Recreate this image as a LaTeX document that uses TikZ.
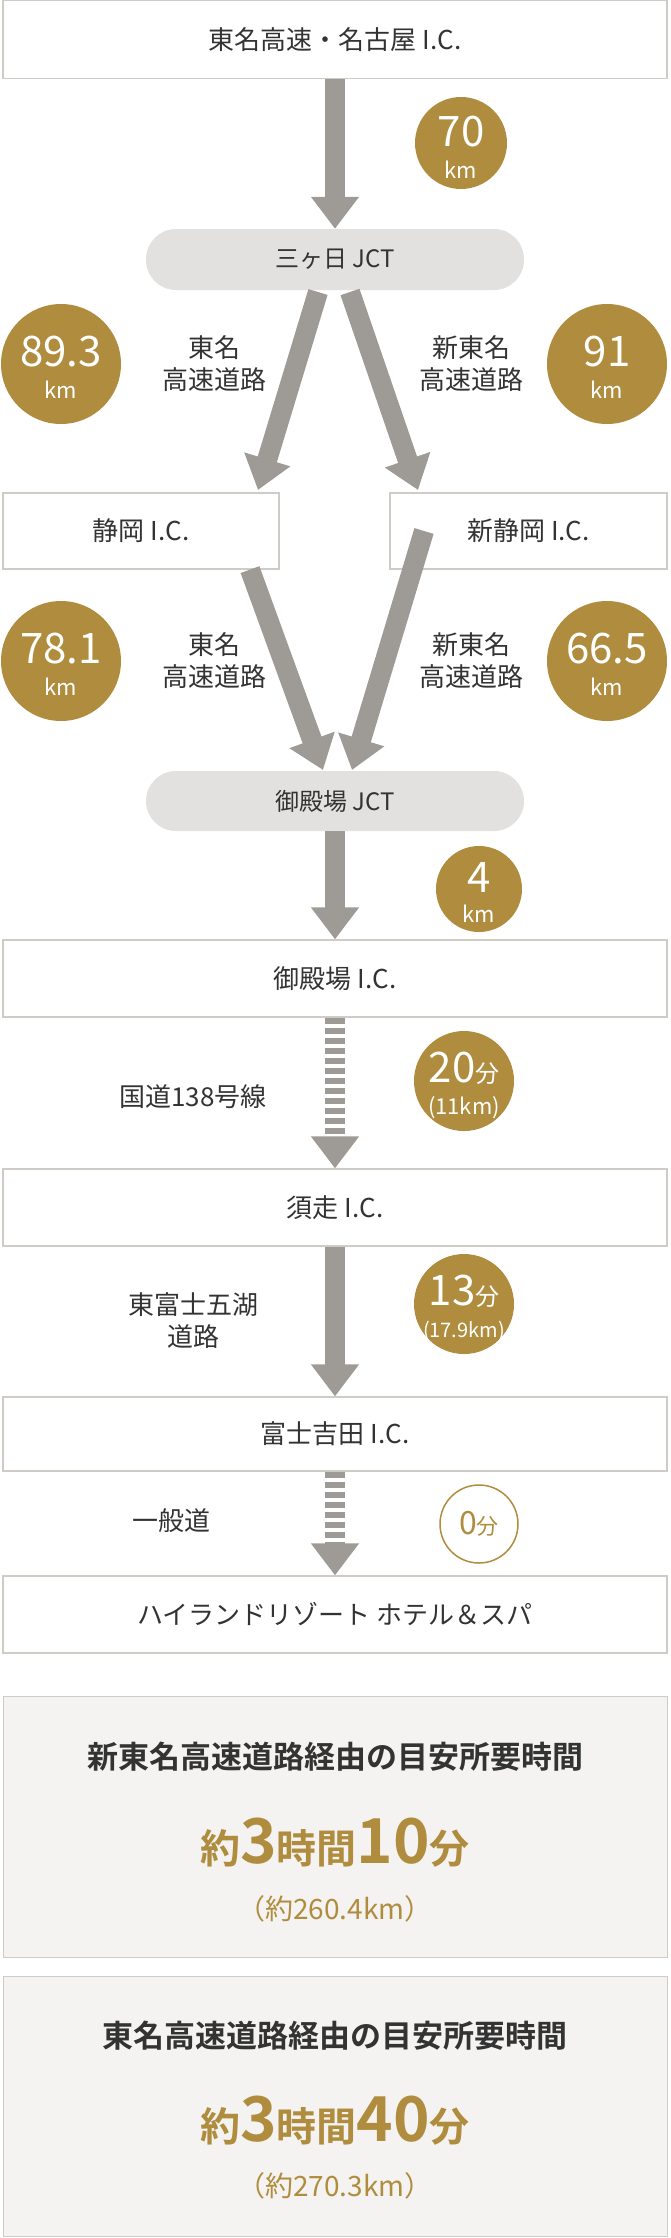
\documentclass[tikz,border=0pt]{standalone}
\usepackage{fontspec}
\setmainfont{Noto Sans CJK JP}[BoldFont={Noto Sans CJK JP Bold}]
\usetikzlibrary{arrows.meta}
\definecolor{gold}{HTML}{B08D3E}
\definecolor{arr}{HTML}{9E9A96}
\definecolor{pill}{HTML}{E3E1DF}
\definecolor{bord}{HTML}{CFCCC8}
\definecolor{sumbg}{HTML}{F4F3F1}
\definecolor{txt}{HTML}{333333}
\begin{document}
\begin{tikzpicture}[x=1pt,y=-1pt,
  box/.style={draw=bord,line width=1.2pt,fill=white,text=txt,font=\fontsize{26}{30}\selectfont},
  pillbox/.style={fill=pill,rounded corners=30pt,text=txt,font=\fontsize{24}{28}\selectfont},
  goldc/.style={circle,fill=gold,inner sep=0pt},
  big/.style={text=white,inner sep=0pt,font=\fontsize{42}{42}\selectfont},
  small/.style={text=white,inner sep=0pt,font=\fontsize{22}{22}\selectfont},
  road/.style={text=txt,align=center,font=\fontsize{26}{32}\selectfont},
  flow/.style={arr,line width=20pt,-{Triangle[width=46pt,length=32pt]}},
  dflow/.style={flow,dash pattern=on 6pt off 4pt}]
\useasboundingbox (0,0) rectangle (670,2238);
% boxes
\node[box,minimum width=664,minimum height=78] (top) at (335,39.5) {東名高速・名古屋 I.C.};
\node[pillbox,minimum width=378,minimum height=61] (j1) at (335,259.5) {三ヶ日 JCT};
\node[box,minimum width=276,minimum height=76] (shz) at (141,531) {静岡 I.C.};
\node[box,minimum width=277,minimum height=76] (nshz) at (528.5,531) {新静岡 I.C.};
\node[pillbox,minimum width=378,minimum height=60] (j2) at (335,801) {御殿場 JCT};
\node[box,minimum width=664,minimum height=77] (gic) at (335,978.5) {御殿場 I.C.};
\node[box,minimum width=664,minimum height=77] (sic) at (335,1207.5) {須走 I.C.};
\node[box,minimum width=664,minimum height=74] (fic) at (335,1434) {富士吉田 I.C.};
\node[box,minimum width=664,minimum height=77] (hot) at (335,1614.5) {ハイランドリゾート\ ホテル＆スパ};
% arrows
\draw[flow] (top.south) -- (j1.north);
\coordinate (a1) at (318,292); \coordinate (a2) at (258,490);
\coordinate (b1) at (350,292); \coordinate (b2) at (418,490);
\draw[flow] (a1) -- (a2);
\draw[flow] (b1) -- (b2);
\coordinate (c1) at (250,571); \coordinate (c2) at (323,770);
\coordinate (d1) at (424,531); \coordinate (d2) at (352,770);
\draw[flow] (shz.south -| c1) -- (c2);
\draw[flow] (d1) -- (d2);
\draw[flow] (j2.south) -- (gic.north);
\draw[dflow] (gic.south) -- (sic.north);
\draw[flow] (sic.south) -- (fic.north);
\draw[dflow] (fic.south) -- (hot.north);
% circles
\node[goldc,minimum size=92] (c70) at (461,143) {};
\node[big] (c70a) at (461,132) {70}; \node[small] (c70b) at (461,170) {km};
\node[goldc,minimum size=120] (c893) at (61,364) {};
\node[big] (c893a) at (61,352) {89.3}; \node[small] (c893b) at (61,390) {km};
\node[goldc,minimum size=120] (c91) at (607,364) {};
\node[big] (c91a) at (607,352) {91}; \node[small] (c91b) at (607,390) {km};
\node[goldc,minimum size=120] (c781) at (61,661) {};
\node[big] (c781a) at (61,649) {78.1}; \node[small] (c781b) at (61,687) {km};
\node[goldc,minimum size=120] (c665) at (607,661) {};
\node[big] (c665a) at (607,649) {66.5}; \node[small] (c665b) at (607,687) {km};
\node[goldc,minimum size=86] (c4) at (479,889) {};
\node[big] (c4a) at (479,878) {4}; \node[small] (c4b) at (479,914) {km};
\node[goldc,minimum size=100] (c20) at (464,1081) {};
\node[big] (c20a) at (464,1068) {20{\fontsize{24}{24}\selectfont 分}}; \node[small] (c20b) at (464,1108) {(11km)};
\node[goldc,minimum size=100] (c13) at (464,1304) {};
\node[big] (c13a) at (464,1291) {13{\fontsize{24}{24}\selectfont 分}}; \node[small,font=\fontsize{20}{20}\selectfont] (c13b) at (464,1331) {(17.9km)};
\node[circle,draw=gold,line width=1.5pt,text=gold,minimum size=78,inner sep=0pt] (c0) at (479,1524) {\fontsize{32}{32}\selectfont 0{\fontsize{22}{22}\selectfont 分}};
% road labels
\node[road] (r1) at (214,364) {東名\\高速道路};
\node[road] (r2) at (471,364) {新東名\\高速道路};
\node[road] (r3) at (214,661) {東名\\高速道路};
\node[road] (r4) at (471,661) {新東名\\高速道路};
\node[road] (r5) at (193,1097) {国道138号線};
\node[road] (r6) at (193,1321) {東富士五湖\\道路};
\node[road] (r7) at (171,1521) {一般道};
% summaries
\node[fill=sumbg,draw=bord,line width=1pt,minimum width=664,minimum height=261] (s1) at (335,1826.5) {};
\node[text=txt,font=\bfseries\fontsize{31}{34}\selectfont] (s1a) at (335,1757) {新東名高速道路経由の目安所要時間};
\node[text=gold,font=\bfseries\fontsize{40}{44}\selectfont] (s1b) at (335,1843) {約{\fontsize{62}{64}\selectfont 3}時間{\fontsize{62}{64}\selectfont 10}分};
\node[text=gold,font=\fontsize{28}{30}\selectfont] (s1c) at (335,1909) {（約260.4km）};
\node[fill=sumbg,draw=bord,line width=1pt,minimum width=664,minimum height=260] (s2) at (335,2106) {};
\node[text=txt,font=\bfseries\fontsize{31}{34}\selectfont] (s2a) at (335,2036) {東名高速道路経由の目安所要時間};
\node[text=gold,font=\bfseries\fontsize{40}{44}\selectfont] (s2b) at (335,2121) {約{\fontsize{62}{64}\selectfont 3}時間{\fontsize{62}{64}\selectfont 40}分};
\node[text=gold,font=\fontsize{28}{30}\selectfont] (s2c) at (335,2186) {（約270.3km）};
\end{tikzpicture}
\end{document}
